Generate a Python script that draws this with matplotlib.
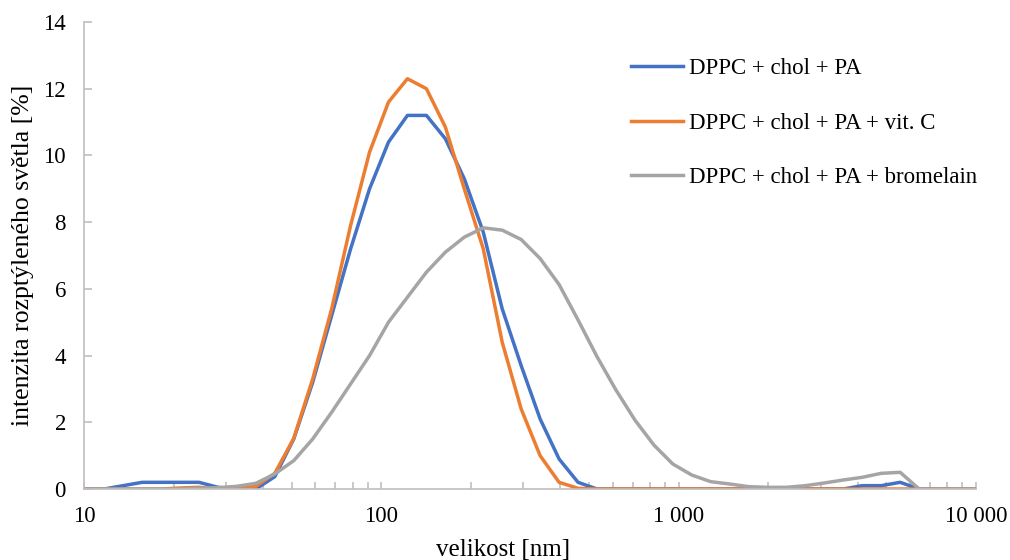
import matplotlib
matplotlib.use("Agg")
import matplotlib.pyplot as plt
from matplotlib.ticker import FixedLocator, FuncFormatter, LogLocator, NullFormatter

plt.rcParams['font.family'] = ['Liberation Serif', 'DejaVu Serif']

# size classes of the DLS measurement [nm]
velikost = [10.1, 11.7, 13.54, 15.69, 18.17, 21.04, 24.36, 28.21, 32.67, 37.84,
            43.82, 50.75, 58.77, 68.06, 78.82, 91.28, 105.7, 122.4, 141.8, 164.2,
            190.1, 220.2, 255.0, 295.3, 342.0, 396.1, 458.7, 531.2, 615.1, 712.4,
            825.0, 955.4, 1106, 1281, 1484, 1718, 1990, 2305, 2669, 3091,
            3580, 4145, 4801, 5560, 6439, 7456, 8635, 10000]

# scattered light intensity [%]
dppc_pa = [0, 0, 0.1, 0.2, 0.2, 0.2, 0.2, 0.05, 0, 0,
           0.37, 1.5, 3.2, 5.2, 7.2, 9.0, 10.4, 11.2, 11.2, 10.5,
           9.3, 7.7, 5.4, 3.7, 2.1, 0.9, 0.2, 0, 0, 0,
           0, 0, 0, 0, 0, 0, 0, 0, 0, 0,
           0, 0.1, 0.1, 0.2, 0, 0, 0, 0]

dppc_pa_vitc = [0, 0, 0, 0, 0, 0.03, 0.05, 0, 0, 0.08,
                0.47, 1.52, 3.3, 5.4, 7.9, 10.1, 11.6, 12.3, 12.0, 10.85,
                9.0, 7.2, 4.4, 2.4, 1.0, 0.2, 0.02, 0, 0, 0,
                0, 0, 0, 0, 0, 0, 0, 0, 0, 0,
                0, 0, 0, 0, 0, 0, 0, 0]

dppc_pa_brom = [0, 0, 0, 0, 0, 0, 0.02, 0.04, 0.08, 0.17,
                0.45, 0.85, 1.5, 2.3, 3.15, 4.0, 5.0, 5.75, 6.5, 7.1,
                7.55, 7.83, 7.76, 7.48, 6.91, 6.13, 5.07, 3.97, 2.97, 2.07,
                1.32, 0.75, 0.42, 0.22, 0.15, 0.07, 0.05, 0.05, 0.1, 0.18,
                0.27, 0.35, 0.47, 0.5, 0, 0, 0, 0]

labels = ["DPPC + chol + PA", "DPPC + chol + PA + vit. C", "DPPC + chol + PA + bromelain"]
colors = ["#4472C4", "#ED7D31", "#A5A5A5"]

fig = plt.figure(figsize=(10.1, 5.6), dpi=100)
ax = fig.add_axes([0.0832, 0.1268, 0.8831, 0.8339])

for y, lab, c in zip([dppc_pa, dppc_pa_vitc, dppc_pa_brom], labels, colors):
    ax.plot(velikost, y, color=c, linewidth=2.5, label=lab, solid_joinstyle='round')

ax.set_xscale('log')
ax.set_xlim(10, 10000)
ax.set_ylim(0, 14)

# axis lines and ticks
axis_grey = "#BFBFBF"
for side in ['top', 'right']:
    ax.spines[side].set_visible(False)
for side in ['left', 'bottom']:
    ax.spines[side].set_color(axis_grey)
    ax.spines[side].set_linewidth(1.2)

ax.xaxis.set_major_locator(FixedLocator([10, 100, 1000, 10000]))
ax.xaxis.set_major_formatter(FuncFormatter(lambda v, p: f"{int(round(v)):,}".replace(",", " ")))
ax.xaxis.set_minor_locator(LogLocator(base=10, subs=range(2, 10)))
ax.xaxis.set_minor_formatter(NullFormatter())
ax.set_yticks(range(0, 15, 2))

ax.tick_params(axis='both', which='both', direction='in', color=axis_grey, width=1.2)
ax.tick_params(axis='x', which='both', length=5, pad=12, labelsize=16.5)
ax.tick_params(axis='y', which='major', length=6, pad=13, labelsize=16.5)

ax.set_xlabel("velikost [nm]", fontsize=18)
ax.set_ylabel("intenzita rozptýleného světla [%]", fontsize=18.5)
ax.xaxis.set_label_coords(0.47, -0.108)
ax.yaxis.set_label_coords(-0.056, 0.5)

ax.legend(loc='upper left', bbox_to_anchor=(0.613, 0.922), frameon=False,
          fontsize=16.5, handlelength=2.3, handletextpad=0.22, labelspacing=1.46,
          borderpad=0, borderaxespad=0)

fig.savefig("out.png", dpi=100)
